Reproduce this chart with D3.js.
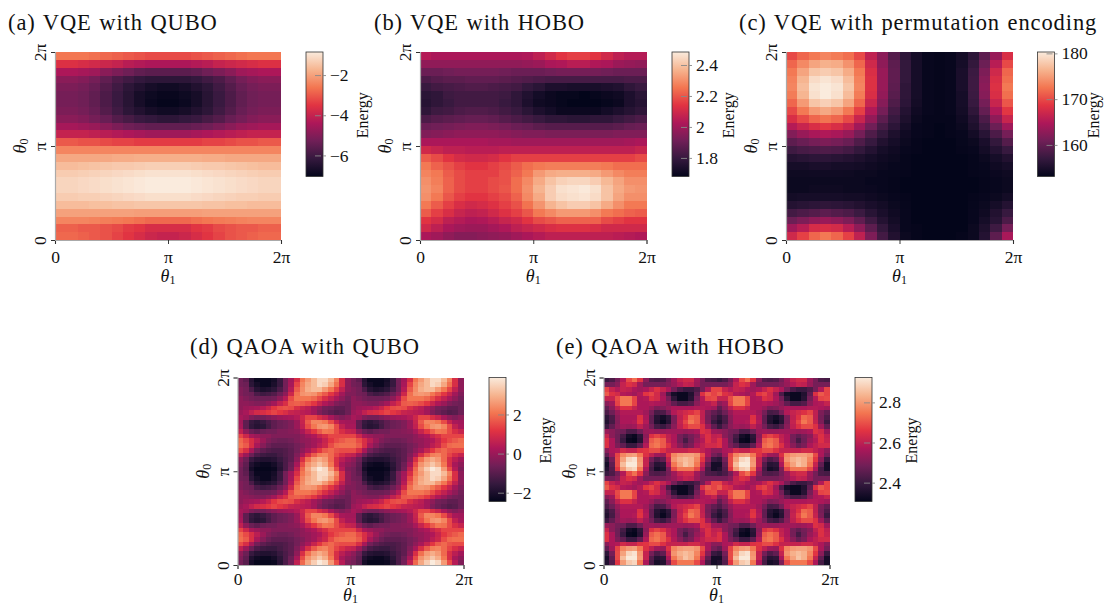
<!DOCTYPE html>
<html>
<head>
<meta charset="utf-8">
<script src="https://cdn.jsdelivr.net/npm/d3@7"></script>
<style>
  body { margin: 0; background: #fff; }
  svg { display: block; }
  text { font-family: "Liberation Serif", serif; fill: #111; }
  .title { font-size: 22.5px; letter-spacing: 0.9px; word-spacing: 1px; }
  .tick-label { font-size: 17.5px; }
</style>
</head>
<body>
<script>
let W = 1107, H = 604;

let tickValues = [0, Math.PI, 2 * Math.PI];
let tickLabels = ["0", "\u03c0", "2\u03c0"];
let titles = ["(a) VQE with QUBO", "(b) VQE with HOBO", "(c) VQE with permutation encoding", "(d) QAOA with QUBO", "(e) QAOA with HOBO"];
let barRanges = [[-7.05, -0.85], [1.68, 2.484], [153.1, 180.3], [-2.45, 3.89], [2.306, 2.924]];
let barTicks = [[-2, -4, -6], [2.4, 2.2, 2, 1.8], [180, 170, 160], [2, 0, -2], [2.8, 2.6, 2.4]];
let barFormats = [d3.format("d"), (v) => v === 2 ? "2" : v.toFixed(1), d3.format("d"), d3.format("d"), d3.format(".1f")];

// seaborn "rocket" colour stops
let rocketStops = ["#03051a", "#35193e", "#701f57", "#ad1759", "#e13342", "#f37651", "#f6b48f", "#faebdd"];

// energies, rows run from theta0 = 2pi (top) down to 0
let energyA = [
[-2.6,-2.6,-2.6,-2.7,-2.8,-2.9,-3.0,-3.1,-3.2,-3.2,-3.2,-3.2,-3.1,-3.0,-2.9,-2.8,-2.7,-2.6,-2.6,-2.6],
[-3.6,-3.6,-3.7,-3.8,-3.9,-4.0,-4.2,-4.3,-4.4,-4.4,-4.4,-4.4,-4.3,-4.2,-4.0,-3.9,-3.8,-3.7,-3.6,-3.6],
[-4.4,-4.4,-4.5,-4.6,-4.9,-5.1,-5.3,-5.5,-5.6,-5.6,-5.6,-5.6,-5.5,-5.3,-5.1,-4.9,-4.6,-4.5,-4.4,-4.4],
[-4.9,-4.9,-5.0,-5.2,-5.5,-5.8,-6.0,-6.2,-6.3,-6.3,-6.3,-6.3,-6.2,-6.0,-5.8,-5.5,-5.2,-5.0,-4.9,-4.9],
[-5.1,-5.1,-5.2,-5.4,-5.7,-6.0,-6.3,-6.5,-6.7,-6.8,-6.8,-6.7,-6.5,-6.3,-6.0,-5.7,-5.4,-5.2,-5.1,-5.1],
[-5.2,-5.2,-5.3,-5.5,-5.8,-6.1,-6.4,-6.7,-6.85,-6.95,-6.95,-6.85,-6.7,-6.4,-6.1,-5.8,-5.5,-5.3,-5.2,-5.2],
[-5.2,-5.2,-5.3,-5.5,-5.8,-6.1,-6.4,-6.7,-6.9,-7.0,-7.0,-6.9,-6.7,-6.4,-6.1,-5.8,-5.5,-5.3,-5.2,-5.2],
[-5.1,-5.1,-5.2,-5.4,-5.7,-6.0,-6.3,-6.5,-6.7,-6.8,-6.8,-6.7,-6.5,-6.3,-6.0,-5.7,-5.4,-5.2,-5.1,-5.1],
[-4.9,-4.9,-5.0,-5.2,-5.4,-5.7,-5.9,-6.1,-6.2,-6.3,-6.3,-6.2,-6.1,-5.9,-5.7,-5.4,-5.2,-5.0,-4.9,-4.9],
[-4.5,-4.5,-4.6,-4.7,-4.9,-5.1,-5.3,-5.4,-5.5,-5.5,-5.5,-5.5,-5.4,-5.3,-5.1,-4.9,-4.7,-4.6,-4.5,-4.5],
[-4.0,-4.0,-4.0,-4.1,-4.2,-4.3,-4.4,-4.5,-4.6,-4.6,-4.6,-4.6,-4.5,-4.4,-4.3,-4.2,-4.1,-4.0,-4.0,-4.0],
[-3.0,-3.0,-3.1,-3.1,-3.2,-3.3,-3.3,-3.4,-3.4,-3.4,-3.4,-3.4,-3.4,-3.3,-3.3,-3.2,-3.1,-3.1,-3.0,-3.0],
[-2.4,-2.4,-2.4,-2.4,-2.4,-2.4,-2.4,-2.4,-2.4,-2.4,-2.4,-2.4,-2.4,-2.4,-2.4,-2.4,-2.4,-2.4,-2.4,-2.4],
[-1.9,-1.9,-1.9,-1.9,-1.9,-1.85,-1.85,-1.8,-1.8,-1.8,-1.8,-1.8,-1.8,-1.85,-1.85,-1.9,-1.9,-1.9,-1.9,-1.9],
[-1.6,-1.6,-1.55,-1.5,-1.45,-1.4,-1.4,-1.35,-1.3,-1.3,-1.3,-1.3,-1.35,-1.4,-1.4,-1.45,-1.5,-1.55,-1.6,-1.6],
[-1.35,-1.35,-1.3,-1.25,-1.2,-1.15,-1.1,-1.05,-1.0,-1.0,-1.0,-1.0,-1.05,-1.1,-1.15,-1.2,-1.25,-1.3,-1.35,-1.35],
[-1.2,-1.2,-1.15,-1.1,-1.05,-1.0,-0.95,-0.9,-0.85,-0.85,-0.85,-0.85,-0.9,-0.95,-1.0,-1.05,-1.1,-1.15,-1.2,-1.2],
[-1.2,-1.2,-1.15,-1.1,-1.05,-1.0,-0.95,-0.9,-0.85,-0.85,-0.85,-0.85,-0.9,-0.95,-1.0,-1.05,-1.1,-1.15,-1.2,-1.2],
[-1.35,-1.35,-1.3,-1.3,-1.25,-1.2,-1.15,-1.1,-1.05,-1.05,-1.05,-1.05,-1.1,-1.15,-1.2,-1.25,-1.3,-1.3,-1.35,-1.35],
[-1.6,-1.6,-1.6,-1.55,-1.55,-1.5,-1.5,-1.45,-1.45,-1.45,-1.45,-1.45,-1.45,-1.5,-1.5,-1.55,-1.55,-1.6,-1.6,-1.6],
[-2.0,-2.0,-2.0,-2.0,-2.0,-2.0,-2.0,-2.05,-2.05,-2.05,-2.05,-2.05,-2.05,-2.0,-2.0,-2.0,-2.0,-2.0,-2.0,-2.0],
[-2.4,-2.4,-2.4,-2.45,-2.5,-2.55,-2.6,-2.7,-2.8,-2.8,-2.8,-2.8,-2.7,-2.6,-2.55,-2.5,-2.45,-2.4,-2.4,-2.4],
[-2.9,-2.9,-3.0,-3.0,-3.1,-3.2,-3.4,-3.5,-3.7,-3.7,-3.7,-3.7,-3.5,-3.4,-3.2,-3.1,-3.0,-3.0,-2.9,-2.9],
[-2.8,-2.8,-2.9,-3.0,-3.1,-3.3,-3.5,-3.7,-3.9,-4.0,-4.0,-3.9,-3.7,-3.5,-3.3,-3.1,-3.0,-2.9,-2.8,-2.8]
];

let energyB = [
[2.04,2.02,2.02,2.02,2.02,2.02,2.02,2.02,2.02,2.03,2.06,2.10,2.14,2.16,2.16,2.14,2.10,2.06,2.04,2.04],
[1.97,1.97,1.97,1.97,1.97,1.97,1.97,1.97,1.97,1.98,1.99,2.02,2.03,2.05,2.05,2.03,2.02,1.99,1.98,1.97],
[1.90,1.90,1.91,1.92,1.92,1.92,1.92,1.91,1.90,1.90,1.90,1.91,1.92,1.92,1.92,1.92,1.91,1.90,1.90,1.90],
[1.84,1.86,1.87,1.87,1.88,1.88,1.88,1.87,1.86,1.85,1.84,1.83,1.83,1.83,1.83,1.83,1.83,1.83,1.84,1.84],
[1.80,1.82,1.83,1.84,1.85,1.85,1.84,1.83,1.82,1.79,1.77,1.74,1.74,1.73,1.73,1.73,1.74,1.75,1.78,1.80],
[1.77,1.78,1.81,1.82,1.82,1.82,1.82,1.81,1.78,1.75,1.72,1.70,1.69,1.69,1.68,1.69,1.70,1.71,1.74,1.77],
[1.76,1.78,1.80,1.82,1.82,1.82,1.82,1.80,1.78,1.74,1.71,1.70,1.69,1.68,1.68,1.68,1.69,1.70,1.74,1.76],
[1.78,1.81,1.82,1.84,1.85,1.85,1.84,1.82,1.80,1.77,1.74,1.72,1.70,1.70,1.70,1.70,1.72,1.74,1.76,1.78],
[1.84,1.86,1.87,1.88,1.89,1.89,1.88,1.86,1.84,1.82,1.80,1.78,1.78,1.77,1.77,1.78,1.78,1.80,1.82,1.84],
[1.90,1.91,1.92,1.93,1.94,1.94,1.93,1.92,1.90,1.89,1.87,1.86,1.86,1.86,1.86,1.86,1.86,1.87,1.89,1.90],
[1.94,1.95,1.96,1.97,1.97,1.97,1.97,1.96,1.95,1.94,1.94,1.93,1.93,1.93,1.93,1.93,1.93,1.94,1.94,1.94],
[2.02,2.02,2.02,2.02,2.02,2.02,2.01,2.01,2.00,2.00,2.00,2.00,2.00,2.00,2.00,2.00,2.00,2.00,2.01,2.02],
[2.10,2.08,2.06,2.06,2.05,2.05,2.05,2.06,2.06,2.06,2.06,2.06,2.06,2.06,2.06,2.06,2.06,2.06,2.06,2.08],
[2.21,2.18,2.14,2.11,2.10,2.10,2.11,2.14,2.16,2.16,2.16,2.16,2.16,2.16,2.16,2.16,2.16,2.16,2.16,2.18],
[2.26,2.22,2.19,2.16,2.14,2.14,2.16,2.18,2.21,2.24,2.26,2.27,2.27,2.27,2.27,2.27,2.26,2.24,2.24,2.24],
[2.28,2.26,2.21,2.18,2.16,2.16,2.16,2.19,2.22,2.26,2.32,2.35,2.36,2.36,2.36,2.35,2.32,2.29,2.27,2.27],
[2.30,2.27,2.22,2.18,2.16,2.16,2.18,2.19,2.24,2.29,2.35,2.40,2.43,2.44,2.44,2.42,2.38,2.34,2.30,2.30],
[2.31,2.28,2.22,2.18,2.16,2.16,2.18,2.20,2.24,2.30,2.37,2.42,2.46,2.47,2.48,2.46,2.40,2.35,2.32,2.31],
[2.30,2.26,2.20,2.16,2.14,2.14,2.16,2.18,2.22,2.29,2.35,2.42,2.45,2.46,2.47,2.45,2.40,2.34,2.30,2.30],
[2.26,2.21,2.16,2.12,2.10,2.11,2.13,2.16,2.19,2.25,2.31,2.37,2.40,2.42,2.42,2.40,2.35,2.30,2.26,2.26],
[2.21,2.16,2.12,2.08,2.06,2.07,2.10,2.13,2.16,2.20,2.26,2.29,2.32,2.32,2.32,2.30,2.26,2.24,2.22,2.21],
[2.14,2.11,2.06,2.04,2.02,2.03,2.05,2.08,2.10,2.14,2.18,2.20,2.22,2.22,2.22,2.22,2.18,2.16,2.14,2.14],
[2.10,2.06,2.02,2.00,1.99,1.99,2.01,2.03,2.06,2.08,2.10,2.12,2.13,2.13,2.13,2.12,2.10,2.10,2.10,2.10],
[2.02,2.00,1.97,1.95,1.95,1.96,1.97,1.98,2.00,2.02,2.04,2.06,2.06,2.06,2.06,2.06,2.06,2.05,2.04,2.03]
];

let energyC = [
[169.9,171.6,172.7,173.5,172.9,172.1,169.9,166.1,162.6,159.0,156.3,154.6,153.5,153.3,153.5,154.4,156.3,159.6,163.4,168.0],
[171.6,173.7,175.4,176.2,175.9,174.3,171.6,167.2,162.8,159.6,156.8,154.6,153.5,153.3,153.5,154.6,156.8,160.6,165.6,169.9],
[172.7,175.4,177.6,178.1,177.6,175.9,172.7,168.0,163.4,159.8,156.8,154.6,153.5,153.3,153.5,154.9,157.4,161.7,167.2,171.6],
[173.2,176.5,179.2,179.8,179.2,177.0,173.2,168.3,163.4,159.8,156.8,154.6,153.5,153.3,153.5,154.9,157.6,162.3,168.0,172.1],
[173.5,177.0,179.8,180.3,179.8,177.6,173.5,168.3,163.4,159.6,156.5,154.6,153.5,153.3,153.5,154.9,157.6,162.6,168.3,172.7],
[172.9,176.5,179.5,180.3,179.5,177.0,172.9,168.0,163.1,159.3,156.5,154.6,153.5,153.3,153.5,154.6,157.4,162.3,168.0,172.1],
[171.6,174.8,177.6,178.4,177.6,175.4,171.6,166.7,162.3,158.7,156.3,154.4,153.5,153.3,153.5,154.6,157.1,161.2,166.7,170.7],
[169.9,172.7,174.8,175.7,174.8,172.7,169.4,165.0,161.2,157.9,155.7,154.1,153.5,153.3,153.5,154.4,156.5,160.1,165.0,168.8],
[168.0,169.9,171.6,172.4,171.6,169.9,166.7,163.1,159.6,157.1,155.2,153.8,153.3,153.3,153.3,154.1,155.7,158.5,162.8,166.7],
[165.3,166.7,168.0,168.8,168.0,166.7,163.9,160.9,158.2,156.3,154.6,153.5,153.3,153.1,153.3,153.8,155.2,157.4,160.6,163.9],
[162.0,163.4,164.5,165.0,164.5,163.4,161.2,158.7,156.8,155.2,154.1,153.5,153.3,153.1,153.3,153.5,154.4,156.0,158.5,161.2],
[159.6,160.4,161.2,161.7,161.2,160.4,158.7,157.1,155.5,154.6,153.8,153.3,153.1,153.1,153.1,153.4,153.8,154.9,156.8,159.0],
[157.6,158.2,158.5,158.7,158.5,157.9,156.8,155.7,154.6,154.1,153.5,153.3,153.1,153.0,153.1,153.3,153.5,154.4,155.7,157.1],
[155.7,156.0,156.3,156.3,156.0,155.7,155.2,154.6,154.1,153.8,153.3,153.1,153.0,153.0,153.0,153.1,153.3,153.8,154.6,155.5],
[154.6,154.6,154.9,154.9,154.6,154.6,154.4,154.1,153.8,153.5,153.3,153.1,153.0,153.0,153.0,153.1,153.3,153.5,154.1,154.6],
[154.0,154.0,154.1,154.1,154.1,154.0,153.8,153.8,153.5,153.4,153.3,153.0,153.0,153.0,153.0,153.0,153.3,153.4,153.7,154.0],
[153.8,153.8,153.8,153.8,153.8,153.8,153.8,153.5,153.5,153.3,153.1,153.0,153.0,153.0,153.0,153.0,153.1,153.3,153.5,153.8],
[153.8,153.8,154.0,154.0,154.0,153.8,153.8,153.7,153.5,153.3,153.1,153.0,153.0,153.0,153.0,153.0,153.1,153.3,153.5,153.8],
[154.4,154.6,154.6,154.6,154.6,154.4,154.4,154.1,153.8,153.5,153.3,153.0,153.0,153.0,153.0,153.0,153.3,153.5,153.8,154.4],
[155.7,156.0,156.3,156.5,156.3,156.0,155.5,154.9,154.4,153.8,153.4,153.0,153.0,153.0,153.0,153.0,153.4,153.8,154.6,155.7],
[157.9,158.5,159.0,159.6,159.0,158.5,157.4,156.0,154.9,154.1,153.5,153.1,153.0,153.0,153.0,153.1,153.5,154.1,155.5,157.1],
[160.6,161.7,162.8,163.4,162.8,161.7,159.8,157.6,155.7,154.4,153.5,153.1,153.0,153.0,153.0,153.1,153.5,154.6,156.0,158.5],
[163.9,165.6,167.7,168.0,167.5,165.6,162.8,159.6,156.8,154.9,153.5,153.3,153.0,153.0,153.0,153.1,153.8,155.2,157.6,161.2],
[167.2,169.4,171.6,172.7,171.6,169.4,166.1,161.7,157.9,155.5,153.8,153.3,153.0,153.0,153.0,153.3,153.8,155.7,159.6,164.5]
];

// (d) and (e) repeat with period pi along both angles, so one 20 x 20 tile is read and drawn four times
let tileD = [
[-0.6,-0.9,-1.8,-2.3,-2.3,-2.3,-2.1,-1.5,-0.6,0.1,1.0,2.1,2.6,3.1,3.6,3.6,3.1,2.3,1.0,-0.2],
[-0.6,-0.7,-1.7,-2.1,-2.3,-2.3,-2.0,-1.5,-0.6,0.2,1.4,2.3,2.8,3.1,3.6,3.4,2.8,2.0,1.0,-0.2],
[-0.4,-0.6,-1.2,-1.8,-2.0,-1.9,-1.7,-1.2,-0.6,0.4,1.7,2.4,2.9,3.1,3.1,2.6,2.1,1.4,0.6,-0.2],
[-0.4,-0.6,-0.7,-1.2,-1.4,-1.3,-1.1,-0.7,-0.2,0.8,2.0,2.5,2.6,2.5,2.1,1.7,1.2,0.7,0.1,-0.4],
[-0.2,-0.4,-0.6,-0.7,-0.7,-0.7,-0.6,-0.2,0.4,1.5,2.1,2.1,2.1,1.9,1.5,1.0,0.6,0.2,-0.2,-0.6],
[-0.2,-0.2,-0.3,-0.4,-0.4,-0.2,0.1,0.6,1.0,1.7,1.8,1.7,1.5,1.2,0.7,0.3,-0.0,-0.4,-0.6,-0.7],
[-0.2,-0.0,0.1,0.2,0.4,0.7,1.2,1.5,1.6,1.5,1.0,0.7,0.5,0.1,-0.2,-0.6,-0.7,-0.9,-0.9,-0.7],
[-0.0,0.2,0.6,0.9,1.0,1.2,1.4,1.2,1.0,0.7,0.6,0.5,0.4,0.1,-0.4,-0.7,-0.9,-1.1,-1.0,-0.7],
[0.2,-0.0,-0.4,-0.6,-0.6,-0.4,-0.2,-0.0,0.1,0.2,0.4,0.8,1.4,1.4,1.0,0.7,0.2,-0.2,-0.4,-0.2],
[0.1,-0.9,-1.5,-1.7,-1.5,-1.2,-0.9,-0.7,-0.6,-0.4,-0.0,0.7,1.7,2.3,2.3,2.1,1.5,0.7,0.2,0.1],
[0.2,-0.9,-1.6,-1.8,-1.7,-1.3,-0.9,-0.7,-0.6,-0.4,-0.0,0.6,1.5,2.1,2.5,2.6,2.3,1.5,0.6,0.2],
[0.6,-0.2,-0.7,-0.9,-0.7,-0.6,-0.6,-0.4,-0.4,-0.3,-0.2,0.2,0.7,1.2,1.7,2.1,2.0,1.5,1.0,0.7],
[1.4,0.8,0.2,-0.0,-0.2,-0.2,-0.4,-0.4,-0.4,-0.4,-0.4,-0.2,0.1,0.3,0.7,1.0,1.4,1.4,1.4,1.4],
[1.9,1.5,1.0,0.5,-0.0,-0.4,-0.6,-0.7,-0.7,-0.6,-0.4,-0.2,-0.1,0.1,0.3,0.7,1.2,1.5,1.7,1.9],
[2.0,1.7,1.0,0.2,-0.3,-0.7,-0.9,-0.9,-0.9,-0.8,-0.6,-0.4,-0.1,0.1,0.5,0.8,1.5,1.9,2.0,2.0],
[1.5,1.0,0.2,-0.6,-0.9,-1.1,-1.2,-1.2,-1.1,-0.9,-0.6,-0.2,0.2,0.7,1.2,1.7,1.9,1.6,1.5,1.5],
[0.6,-0.0,-0.7,-1.2,-1.4,-1.5,-1.5,-1.3,-1.1,-0.9,-0.4,0.2,1.0,1.7,2.2,2.3,1.9,1.4,1.0,0.7],
[-0.2,-0.7,-1.5,-1.8,-1.9,-1.9,-1.8,-1.5,-1.2,-0.9,-0.2,1.0,2.0,2.6,2.9,2.6,1.9,1.0,0.5,0.1],
[-0.4,-0.9,-1.9,-2.2,-2.3,-2.3,-2.1,-1.7,-1.2,-0.7,0.2,1.5,2.5,2.9,3.3,2.9,2.1,1.0,0.2,-0.2],
[-0.6,-1.0,-2.1,-2.4,-2.4,-2.4,-2.3,-1.8,-1.2,-0.6,0.6,1.9,2.8,3.4,3.9,3.6,2.6,1.5,0.4,-0.4]
];

let tileE = [
[2.40,2.43,2.49,2.58,2.69,2.74,2.66,2.52,2.44,2.43,2.44,2.49,2.55,2.61,2.63,2.63,2.55,2.49,2.43,2.42],
[2.49,2.49,2.52,2.61,2.65,2.63,2.55,2.49,2.49,2.49,2.49,2.51,2.54,2.58,2.61,2.60,2.54,2.49,2.49,2.49],
[2.68,2.61,2.58,2.61,2.60,2.57,2.55,2.57,2.61,2.65,2.61,2.57,2.49,2.43,2.40,2.40,2.43,2.49,2.58,2.68],
[2.71,2.65,2.63,2.58,2.57,2.55,2.58,2.66,2.68,2.63,2.55,2.43,2.34,2.32,2.32,2.36,2.46,2.65,2.71,2.68],
[2.61,2.61,2.69,2.75,2.75,2.68,2.57,2.58,2.65,2.63,2.57,2.49,2.38,2.32,2.32,2.37,2.49,2.58,2.68,2.69],
[2.52,2.55,2.68,2.75,2.75,2.68,2.57,2.57,2.58,2.57,2.55,2.52,2.46,2.42,2.42,2.44,2.52,2.57,2.58,2.61],
[2.46,2.52,2.60,2.65,2.65,2.61,2.57,2.57,2.54,2.50,2.51,2.54,2.57,2.57,2.57,2.57,2.58,2.58,2.57,2.55],
[2.43,2.48,2.54,2.58,2.58,2.58,2.58,2.55,2.49,2.42,2.43,2.49,2.58,2.61,2.63,2.65,2.68,2.60,2.50,2.46],
[2.38,2.43,2.52,2.57,2.57,2.57,2.65,2.57,2.46,2.37,2.34,2.38,2.50,2.60,2.65,2.73,2.71,2.60,2.49,2.43],
[2.36,2.42,2.51,2.57,2.57,2.58,2.66,2.58,2.46,2.36,2.32,2.37,2.50,2.61,2.68,2.75,2.71,2.61,2.50,2.40],
[2.40,2.46,2.52,2.55,2.54,2.55,2.60,2.55,2.49,2.42,2.40,2.44,2.52,2.60,2.65,2.69,2.69,2.65,2.55,2.46],
[2.54,2.52,2.49,2.48,2.43,2.43,2.48,2.54,2.55,2.54,2.54,2.55,2.55,2.55,2.54,2.55,2.57,2.65,2.63,2.55],
[2.61,2.52,2.48,2.42,2.34,2.32,2.38,2.52,2.65,2.68,2.65,2.60,2.57,2.49,2.46,2.49,2.52,2.60,2.65,2.60],
[2.65,2.57,2.48,2.40,2.32,2.31,2.37,2.54,2.71,2.74,2.71,2.61,2.57,2.49,2.42,2.48,2.54,2.58,2.65,2.61],
[2.65,2.57,2.50,2.46,2.40,2.40,2.46,2.58,2.73,2.75,2.71,2.65,2.58,2.52,2.47,2.50,2.57,2.60,2.63,2.63],
[2.52,2.57,2.58,2.63,2.61,2.61,2.65,2.66,2.69,2.69,2.65,2.61,2.61,2.61,2.61,2.63,2.63,2.60,2.57,2.52],
[2.46,2.55,2.68,2.77,2.80,2.81,2.75,2.65,2.60,2.55,2.54,2.65,2.77,2.80,2.81,2.81,2.79,2.69,2.57,2.49],
[2.38,2.49,2.69,2.81,2.89,2.91,2.79,2.61,2.49,2.43,2.46,2.61,2.79,2.83,2.85,2.83,2.77,2.66,2.52,2.40],
[2.34,2.46,2.69,2.85,2.92,2.92,2.80,2.61,2.44,2.37,2.38,2.57,2.75,2.81,2.86,2.83,2.75,2.61,2.46,2.34],
[2.36,2.44,2.66,2.80,2.87,2.89,2.75,2.57,2.42,2.34,2.36,2.50,2.69,2.75,2.75,2.75,2.69,2.57,2.42,2.34]
];

let tile = (t) => t.concat(t).map((row) => row.concat(row));
let grids = [energyA, energyB, energyC, tile(tileD), tile(tileE)];

// layout of each panel: plot box, colour bar box, title position, axis label drop, tick label gap
let layouts = [
  {x: 55, y: 52, w: 226, h: 188, bx: 306, bh: 124.5, tx: 8, ty: 30, drop: 42, gap: 7},
  {x: 420, y: 52, w: 226.5, h: 188, bx: 672, bh: 124.5, tx: 374, ty: 30, drop: 42, gap: 7},
  {x: 786, y: 52, w: 227, h: 188, bx: 1037.5, bh: 124.5, tx: 739, ty: 30, drop: 42, gap: 7},
  {x: 237.5, y: 377.5, w: 226, h: 187.5, bx: 489, bh: 124, tx: 190, ty: 354, drop: 36, gap: 4},
  {x: 603.5, y: 377.5, w: 226, h: 187.5, bx: 855, bh: 124, tx: 556, ty: 354, drop: 36, gap: 4}
];

let svg = d3.select("body").append("svg").attr("width", W).attr("height", H);
let defs = svg.append("defs");

let Rocket = (range) =>
{
  let domain = rocketStops.map((c, i) => range[0] + (range[1] - range[0]) * i / (rocketStops.length - 1));
  return d3.scaleLinear().domain(domain).range(rocketStops).clamp(true);
}

let DrawTheta = (g, sub) =>
{
  let t = g.append("text").attr("text-anchor", "middle").attr("font-size", 18);
  t.append("tspan").attr("font-style", "italic").text("\u03b8");
  t.append("tspan").attr("font-size", 12).attr("dy", 2).text(sub);
}

let DrawHeatmap = (g, grid, color, l) =>
{
  let scaleCol = d3.scaleBand().domain(d3.range(grid[0].length)).range([0, l.w]);
  let scaleRow = d3.scaleBand().domain(d3.range(grid.length)).range([0, l.h]);
  g.selectAll(".row").data(grid).enter().append("g")
    .attr("class", "row")
    .attr("transform", (d, i) => "translate(0," + scaleRow(i) + ")")
    .selectAll("rect").data((d) => d).enter().append("rect")
    .attr("x", (d, i) => scaleCol(i))
    .attr("width", scaleCol.bandwidth() + 0.4)
    .attr("height", scaleRow.bandwidth() + 0.4)
    .attr("shape-rendering", "crispEdges")
    .attr("fill", (d) => color(d));
}

let DrawAxes = (g, l) =>
{
  let scaleX = d3.scaleLinear().domain([0, 2 * Math.PI]).range([0, l.w]);
  let scaleY = d3.scaleLinear().domain([0, 2 * Math.PI]).range([l.h, 0]);
  let format = (d, i) => tickLabels[i];
  let xAxis = g.append("g").attr("transform", "translate(0," + l.h + ")")
    .call(d3.axisBottom(scaleX).tickValues(tickValues).tickFormat(format).tickSize(4).tickPadding(l.gap));
  let yAxis = g.append("g")
    .call(d3.axisLeft(scaleY).tickValues(tickValues).tickFormat(format).tickSize(4).tickPadding(3));
  xAxis.selectAll("text").attr("class", "tick-label").attr("font-family", null);
  yAxis.selectAll("text").attr("class", "tick-label")
    .attr("font-family", null)
    .attr("transform", "rotate(-90)")
    .attr("x", 0).attr("y", -9).attr("dy", 0)
    .attr("text-anchor", "middle");
  g.selectAll(".domain").attr("stroke", "#aaa").attr("stroke-width", 1.2);
  g.selectAll(".tick line").attr("stroke", "#222").attr("stroke-width", 0.9);

  let labelX = g.append("g").attr("transform", "translate(" + l.w / 2 + "," + (l.h + l.drop) + ")");
  DrawTheta(labelX, "1");
  let labelY = g.append("g").attr("transform", "translate(-29," + l.h / 2 + ") rotate(-90)");
  DrawTheta(labelY, "0");
}

let DrawColorbar = (g, color, range, ticks, format, l, i) =>
{
  let id = "bar" + i;
  let gradient = defs.append("linearGradient").attr("id", id)
    .attr("x1", 0).attr("x2", 0).attr("y1", 1).attr("y2", 0);
  gradient.selectAll("stop").data(rocketStops).enter().append("stop")
    .attr("offset", (d, k) => k / (rocketStops.length - 1))
    .attr("stop-color", (d) => d);
  let bw = 17;
  g.append("rect").attr("width", bw).attr("height", l.bh).attr("fill", "url(#" + id + ")")
    .attr("stroke", "#333").attr("stroke-width", 0.8);
  let scaleBar = d3.scaleLinear().domain(range).range([l.bh, 0]);
  let axis = g.append("g").attr("transform", "translate(" + bw + ",0)")
    .call(d3.axisRight(scaleBar).tickValues(ticks).tickFormat((d) => format(d).replace("-", "\u2212")).tickSize(3).tickPadding(4));
  axis.select(".domain").remove();
  axis.selectAll("line").attr("x1", -8).attr("x2", 3).attr("stroke", "#888").attr("stroke-width", 0.9).attr("stroke-dasharray", "6,2");
  axis.selectAll("text").attr("class", "tick-label").attr("font-family", null);
  g.append("text").text("Energy")
    .attr("font-size", 16)
    .attr("text-anchor", "middle")
    .attr("transform", "translate(56," + (l.bh / 2 + 1) + ") rotate(-90)")
    .attr("dy", "0.35em");
}

grids.forEach((grid, i) =>
{
  let l = layouts[i];
  let color = Rocket(barRanges[i]);
  svg.append("text").attr("class", "title").attr("x", l.tx).attr("y", l.ty).text(titles[i]);
  let plot = svg.append("g").attr("transform", "translate(" + l.x + "," + l.y + ")");
  DrawHeatmap(plot, grid, color, l);
  DrawAxes(plot, l);
  let bar = svg.append("g").attr("transform", "translate(" + l.bx + "," + l.y + ")");
  DrawColorbar(bar, color, barRanges[i], barTicks[i], barFormats[i], l, i);
});
</script>
</body>
</html>
